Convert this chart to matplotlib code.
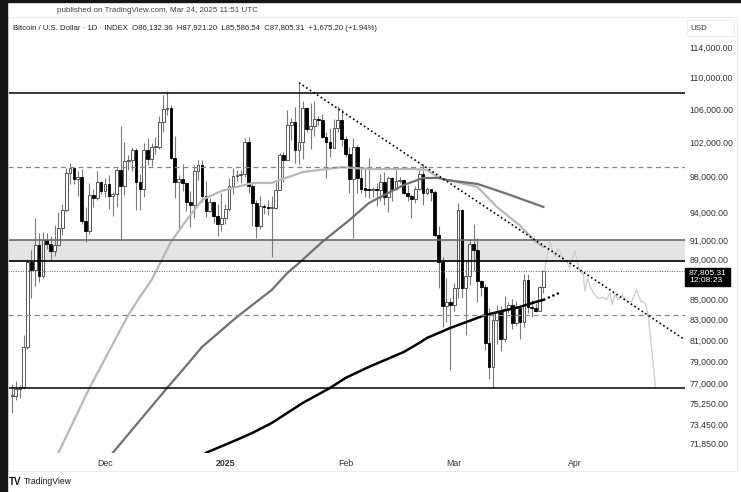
import numpy as np
import pandas as pd
import matplotlib
matplotlib.use('Agg')
import matplotlib.pyplot as plt
import matplotlib.dates as mdates
from matplotlib.patches import Rectangle
from matplotlib.ticker import NullLocator

plt.rcParams['font.family'] = ['Liberation Sans', 'DejaVu Sans']

# daily candles, 2024-11-07 .. 2025-03-24
opens = [75860, 75900, 76540, 76680, 80400, 88700, 87950, 90500, 87300, 91060, 90600, 89850,
         90500, 92300, 94300, 98400, 98950, 97700, 98000, 93050, 91950, 95950, 95650, 97450,
         96400, 97200, 95850, 96000, 98750, 96950, 99850, 99900, 101150, 97350, 96650, 101150,
         100000, 101400, 101400, 104450, 106050, 106150, 100200, 97450, 97750, 97250, 95150, 94850,
         98700, 99400, 95800, 94200, 95200, 93600, 92700,
         93400, 94400, 96900, 98100, 98200, 98300, 102100, 96950, 95050, 92500, 94700, 94550,
         94500, 94500, 96550, 100500, 99950, 104100, 104400, 101100, 102050, 106150, 103650, 103950,
         104800, 104700, 102600, 102100, 101300, 103700, 104700,
         102400, 100650, 97700, 101400, 97850, 96600, 96550, 96500, 96500, 96450, 97400, 95750,
         97850, 96600, 97500, 97600, 96150, 95800, 95500, 96600, 98300, 96150, 96600, 96300,
         91550, 88700, 84300, 84700,
         84350, 86050, 94250, 86100, 87250, 90600, 89950, 86750, 86200, 80700, 78550, 82900,
         83700, 81100, 83950, 84350, 82600, 84050, 82700, 86900, 84200, 84050, 83850, 86132.36]
highs = [76950, 77250, 76920, 81480, 89000, 89950, 93450, 91800, 91850, 91800, 91500, 92650,
         94000, 94900, 99000, 99600, 99000, 98700, 98900, 94600, 97300, 96650, 98650, 97500,
         97900, 98200, 96300, 99000, 104000, 102000, 100500, 101400, 101300, 98300, 101900, 102500,
         101900, 102650, 105200, 107800, 108350, 106500, 102800, 98150, 99500, 97400, 96400, 99400,
         99950, 99950, 97500, 95600, 95250, 94900, 96150,
         94950, 97800, 98950, 98750, 98800, 102500, 102700, 97250, 95350, 95800, 94950, 95400,
         95850, 97350, 100700, 100850, 105900, 104950, 106300, 109350, 107000, 106300, 106850, 107100,
         105250, 105450, 103200, 103700, 104800, 106450, 106000,
         102750, 101450, 102500, 101700, 99000, 99150, 100150, 96850, 97300, 98300, 98500, 98100,
         97950, 98800, 97950, 97700, 97050, 96000, 96900, 98800, 99500, 96850, 96600, 96500,
         92550, 89250, 87050, 85050,
         86550, 95050, 94400, 88900, 91000, 92800, 91250, 86900, 86500, 84100, 83600, 84350,
         84300, 85300, 84700, 85000, 84750, 84050, 87450, 87450, 84850, 84550, 86300, 87921.20]
lows = [74420, 75560, 75700, 76500, 80200, 85100, 86250, 86700, 87100, 90100, 88800, 89400,
        90400, 91600, 94100, 97200, 97200, 95800, 92700, 90800, 91700, 94600, 95400, 96100,
        95700, 94400, 93600, 94650, 91000, 95900, 98800, 98700, 94300, 94300, 95700, 99350,
        99250, 100650, 101250, 103300, 105350, 100000, 95600, 92100, 96400, 94200, 92450, 93400,
        97600, 95200, 93500, 94100, 92900, 91500, 92000,
        92800, 94200, 96000, 97550, 97300, 97950, 96150, 92500, 91250, 92200, 93850, 93700,
        89250, 94350, 96500, 97350, 99950, 102300, 99600, 99500, 100100, 103300, 101250, 102800,
        104100, 102500, 97800, 100300, 101300, 103300, 101550,
        100300, 96150, 91200, 96150, 96200, 95700, 95650, 95700, 94750, 95300, 94850, 94100,
        95250, 96450, 97250, 96050, 95250, 93400, 95050, 96500, 94850, 95900, 95250, 91350,
        86050, 82250, 82750, 78250,
        83850, 85100, 85100, 81500, 86400, 87850, 84700, 85250, 80050, 77450, 76600, 80650,
        79950, 80800, 83650, 82100, 82450, 81150, 82300, 83650, 83200, 83700, 83850, 85586.54]
closes = [75900, 76540, 76680, 80400, 88700, 87950, 90500, 87300, 91060, 90600, 89850, 90500,
          92300, 94300, 98400, 98950, 97700, 98000, 93050, 91950, 95950, 95650, 97450, 96400,
          97200, 95850, 96000, 98750, 96950, 99850, 99900, 101150, 97350, 96650, 101150, 100000,
          101400, 101400, 104450, 106050, 106150, 100200, 97450, 97750, 97250, 95150, 94850, 98700,
          99400, 95800, 94200, 95200, 93600, 92700, 93400,
          94400, 96900, 98100, 98200, 98300, 102100, 96950, 95050, 92500, 94700, 94550, 94500,
          94500, 96550, 100500, 99950, 104100, 104400, 101100, 102050, 106150, 103650, 103950, 104800,
          104700, 102600, 102100, 101300, 103700, 104700, 102400,
          100650, 97700, 101400, 97850, 96600, 96550, 96500, 96500, 96450, 97400, 95750, 97850,
          96600, 97500, 97600, 96150, 95800, 95500, 96600, 98300, 96150, 96600, 96300, 91550,
          88700, 84300, 84700, 84350,
          86050, 94250, 86100, 87250, 90600, 89950, 86750, 86200, 80700, 78550, 82900, 83700,
          81100, 83950, 84350, 82600, 84050, 82700, 86900, 84200, 84050, 83850, 86130, 87805.31]

# moving averages
ma50_dates = ['2024-11-18', '2024-11-19', '2024-11-27', '2024-12-07', '2024-12-10', '2024-12-13',
              '2024-12-18', '2024-12-22', '2024-12-26', '2024-12-31', '2025-01-04', '2025-01-08',
              '2025-01-13', '2025-01-15', '2025-01-21', '2025-01-31', '2025-02-07', '2025-02-19',
              '2025-02-22', '2025-02-25', '2025-03-07', '2025-03-12', '2025-03-18', '2025-03-22',
              '2025-03-24']
ma50_vals = [70300, 71030, 76610, 83410, 85190, 86890, 90830, 93170, 95380, 96390, 96840, 97290,
             97290, 97630, 98540, 99100, 98880, 98880, 98770, 97860, 96840, 94610, 92570, 90830,
             90300]
ma100_dates = ['2024-12-02', '2024-12-03', '2024-12-17', '2024-12-21', '2024-12-26', '2025-01-04',
               '2025-01-13', '2025-01-17', '2025-01-20', '2025-01-26', '2025-02-02', '2025-02-07',
               '2025-02-16', '2025-02-21', '2025-02-25', '2025-02-27', '2025-03-07', '2025-03-14',
               '2025-03-24']
ma100_vals = [70500, 71030, 76610, 78230, 80360, 83220, 85890, 87600, 88620, 90830, 93170, 95040,
              97060, 97860, 97860, 97630, 97180, 96160, 94610]
ma200_dates = ['2024-12-26', '2024-12-27', '2025-01-04', '2025-01-08', '2025-01-13', '2025-01-21',
               '2025-01-28', '2025-02-01', '2025-02-07', '2025-02-16', '2025-02-20', '2025-02-22',
               '2025-02-28', '2025-03-09', '2025-03-18', '2025-03-22', '2025-03-24']
ma200_vals = [70700, 71030, 72120, 72700, 73550, 75290, 76610, 77510, 78510, 79890, 80740, 81210,
              82160, 83410, 84210, 84690, 84890]
ma200_ext_dates = ['2025-03-24', '2025-03-28']
ma200_ext_vals = [84890, 85580]

# projected path (days after last candle, price)
ghost_days = [0.2, 1.1, 1.7, 2.3, 3.0, 3.7, 4.3, 5.1, 6.0, 6.8, 7.4, 8.1, 8.7, 9.4, 10.3, 10.7,
              11.4, 12.0, 12.9, 14.1, 15.4, 16.3, 17.2, 17.7, 18.4, 19.3, 20.3, 21.5, 22.7, 24.0,
              25.1, 26.2, 27.0, 27.7, 28.4, 28.9]
ghost_vals = [87780, 89670, 90890, 89840, 89320, 90110, 89840, 88960, 88800, 88110, 88960, 89900,
              88800, 87780, 87430, 85750, 87090, 86250, 85580, 85020, 85160, 84920, 85580, 84430,
              85410, 84920, 85410, 84770, 84700, 85910, 84770, 84600, 83450, 80900, 78420, 76610]

# drawn levels
resistance = 108100
mid_dashed = 99100
zone_low, zone_high = 88800, 91000
last_price = 87805.31
low_dashed = 83450
support = 76650
trend_dates = ['2025-01-20', '2025-02-21']
trend_vals = [109350, 99300]

ytick_vals = [114000, 110000, 106000, 102000, 98000, 94000, 91000, 89000, 85000, 83000,
              81000, 79000, 77000, 75250, 73450, 71850]
xtick_dates = ['2024-12-01', '2025-01-01', '2025-02-01', '2025-03-01', '2025-04-01']
xtick_labels = ['Dec', '2025', 'Feb', 'Mar', 'Apr']

W, H = 741, 492
fig = plt.figure(figsize=(W / 100, H / 100), dpi=100)
fig.patch.set_facecolor('white')


def fx(px):
    return px / W


def fy(py):
    return 1 - py / H


# panel frame and screenshot border
fig.patches.append(Rectangle((fx(8), fy(471)), fx(737) - fx(8), fy(17) - fy(471),
                             transform=fig.transFigure, fill=False, ec='#ececec', lw=0.8))
fig.patches.append(Rectangle((0, 0), fx(7), 1, transform=fig.transFigure, color='#161616'))
fig.patches.append(Rectangle((0, fy(1.5)), 1, fy(0) - fy(1.5), transform=fig.transFigure,
                             color='#161616'))

ax = fig.add_axes([fx(8), fy(453), fx(685) - fx(8), fy(17) - fy(453)])
for s in ax.spines.values():
    s.set_visible(False)

dates = pd.date_range('2024-11-07', periods=len(closes), freq='D')
x = mdates.date2num(dates)
o, h, l, c = (np.array(v, dtype=float) for v in (opens, highs, lows, closes))

d0 = mdates.date2num(pd.Timestamp('2024-12-01'))
ax.set_yscale('log')
ax.set_xlim(d0 - 25.0, d0 + 149.5)
ax.set_ylim(71017, 118057)

# candles
up = c >= o
bot = np.minimum(o, c)
hgt = np.maximum(np.abs(c - o), bot * 0.0012)
ax.vlines(x, l, h, color='#7a7a7a', lw=0.8, zorder=3)
ax.bar(x[up], hgt[up], bottom=bot[up], width=0.7, facecolor='white', edgecolor='#555555',
       lw=0.7, zorder=4)
ax.bar(x[~up], hgt[~up], bottom=bot[~up], width=0.7, facecolor='black', edgecolor='black',
       lw=0.6, zorder=4)

# horizontal levels
ax.axhspan(zone_low, zone_high, color='#e4e4e4', zorder=1, lw=0)
ax.axhline(zone_high, color='#6a6a6a', lw=1.2, zorder=6)
ax.axhline(zone_low, color='black', lw=1.2, zorder=6)
ax.axhline(resistance, color='black', lw=1.1, zorder=6)
ax.axhline(support, color='black', lw=1.1, zorder=6)
ax.axhline(mid_dashed, color='#888888', lw=0.9, ls=(0, (4, 3)), zorder=6)
ax.axhline(low_dashed, color='#888888', lw=0.9, ls=(0, (4, 3)), zorder=6)
ax.axhline(last_price, color='#666666', lw=0.7, ls=(0, (1, 1.5)), zorder=6)

# moving averages
ax.plot(pd.to_datetime(ma50_dates), ma50_vals, color='#b8b8b8', lw=1.6, zorder=5)
ax.plot(pd.to_datetime(ma100_dates), ma100_vals, color='#707070', lw=1.6, zorder=5)
ax.plot(pd.to_datetime(ma200_dates), ma200_vals, color='black', lw=1.8, zorder=5)
ax.plot(pd.to_datetime(ma200_ext_dates), ma200_ext_vals, color='black', lw=1.6,
        ls=(0, (1, 1.2)), zorder=5)

# projection
ax.plot(x[-1] + np.array(ghost_days), ghost_vals, color='#cfcfcf', lw=1.0, zorder=5)

# descending trendline, extended to the right edge
tx = mdates.date2num(pd.to_datetime(trend_dates))
slope = (np.log(trend_vals[1]) - np.log(trend_vals[0])) / (tx[1] - tx[0])
x_end = ax.get_xlim()[1]
ax.plot([tx[0], x_end], [trend_vals[0], trend_vals[0] * np.exp(slope * (x_end - tx[0]))],
        color='black', lw=1.2, ls=(0, (1, 1.6)), zorder=6)

# axes ticks
ax.yaxis.tick_right()
ax.yaxis.set_minor_locator(NullLocator())
ax.set_yticks(ytick_vals)
ax.set_yticklabels([f'{v:,.2f}' for v in ytick_vals])
ax.tick_params(axis='y', length=0, pad=3, labelsize=6.3, labelcolor='#333333')
ax.set_xticks(mdates.date2num(pd.to_datetime(xtick_dates)))
ax.set_xticklabels(xtick_labels)
ax.tick_params(axis='x', length=0, pad=4.5, labelsize=6.3, labelcolor='#333333')
ax.get_xticklabels()[1].set_fontweight('bold')

# texts
fig.text(fx(57), fy(11), 'published on TradingView.com, Mar 24, 2025 11:51 UTC', fontsize=5.8,
         color='#444444', va='center')
fig.text(fx(13), fy(28), 'Bitcoin / U.S. Dollar \u00b7 1D \u00b7 INDEX  O86,132.36  H87,921.20  '
         'L85,586.54  C87,805.31  +1,675.20 (+1.94%)', fontsize=5.6, color='#222222', va='center')
fig.patches.append(Rectangle((fx(687), fy(35.5)), fx(734) - fx(687), fy(20.5) - fy(35.5),
                             transform=fig.transFigure, fill=False, ec='#eeeeee', lw=0.8))
fig.text(fx(690), fy(28), 'USD', fontsize=5.8, color='#333333', va='center')
fig.patches.append(Rectangle((fx(685), fy(286)), fx(729.5) - fx(685), fy(267.5) - fy(286),
                             transform=fig.transFigure, color='black', zorder=10))
fig.text(fx(689), fy(272.5), '87,805.31', fontsize=6.1, color='white', va='center', zorder=11)
fig.text(fx(689), fy(281), '12:08:23', fontsize=6.1, color='white', va='center', zorder=11)
fig.text(fx(9), fy(482), 'TV', fontsize=7, fontweight='bold', color='#131722', va='center')
fig.text(fx(24), fy(482), 'TradingView', fontsize=6.2, color='#131722', va='center')

fig.savefig('out.png', dpi=100)
